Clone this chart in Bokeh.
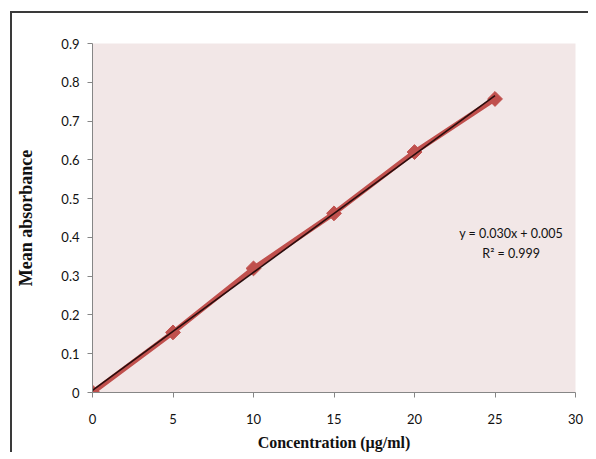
import math
import numpy as np
from bokeh.plotting import figure
from bokeh.models import FixedTicker, CustomJSTickFormatter, Label
from bokeh.embed import file_html
from bokeh.resources import INLINE

# data
concentration = [0, 5, 10, 15, 20, 25]
absorbance = [0.0, 0.155, 0.32, 0.462, 0.62, 0.757]
x_ticks = [0, 5, 10, 15, 20, 25, 30]
y_ticks = [0, 0.1, 0.2, 0.3, 0.4, 0.5, 0.6, 0.7, 0.8, 0.9]
equation_text = "y = 0.030x + 0.005"
r2_text = "R\u00b2 = 0.999"
x_label = "Concentration (\u00b5g/ml)"
y_label = "Mean absorbance"

slope, intercept = np.polyfit(concentration, absorbance, 1)
trend_x = [concentration[0], concentration[-1]]
trend_y = [slope * v + intercept for v in trend_x]

p = figure(width=578, height=441, output_backend="svg", toolbar_location=None,
           x_range=(0, 30), y_range=(0, 0.9),
           min_border_left=80, min_border_right=15, min_border_top=30, min_border_bottom=62)
p.styles = {"border-left": "2px solid #3a3a3a", "border-top": "2px solid #3a3a3a",
            "margin-left": "10px", "margin-top": "11px"}
p.background_fill_color = "#F2E7E7"
p.border_fill_color = "white"
p.outline_line_color = None
p.xgrid.visible = False
p.ygrid.visible = False

for ax in (p.xaxis[0], p.yaxis[0]):
    ax.axis_line_color = "#868686"
    ax.major_tick_line_color = "#868686"
    ax.minor_tick_line_color = None
    ax.major_tick_out = 5
    ax.major_tick_in = 0
    ax.major_label_text_font = "Lato"
    ax.major_label_text_font_size = "13px"
    ax.major_label_text_color = "#111111"
    ax.axis_label_text_font = "Liberation Serif"
    ax.axis_label_text_font_style = "bold"
    ax.axis_label_text_color = "#111111"

p.xaxis.axis_label_text_font_size = "16px"
p.yaxis.axis_label_text_font_size = "18px"
p.xaxis.ticker = FixedTicker(ticks=x_ticks)
p.yaxis.ticker = FixedTicker(ticks=y_ticks)
p.yaxis.formatter = CustomJSTickFormatter(code="return tick == 0 ? '0' : tick.toFixed(1);")
p.xaxis.major_label_standoff = 16
p.yaxis.major_label_standoff = 8
p.xaxis.axis_label = x_label
p.yaxis.axis_label = y_label
p.xaxis.axis_label_standoff = 7
p.yaxis.axis_label_standoff = 22

p.line(concentration, absorbance, line_color="#C0504D", line_width=5)
p.scatter(concentration, absorbance, marker="square", size=10.5, angle=math.pi / 4,
          fill_color="#C0504D", line_color="#C0504D")
p.line(trend_x, trend_y, line_color="#2a0d0d", line_width=1.6)

p.add_layout(Label(x=26.0, y=0.41, text=equation_text, text_align="center",
                   text_baseline="middle", text_font="Lato", text_font_size="12.5px",
                   text_color="#111111"))
p.add_layout(Label(x=26.0, y=0.358, text=r2_text, text_align="center",
                   text_baseline="middle", text_font="Lato", text_font_size="12.5px",
                   text_color="#111111"))

open("out.html", "w").write(file_html(p, INLINE))
